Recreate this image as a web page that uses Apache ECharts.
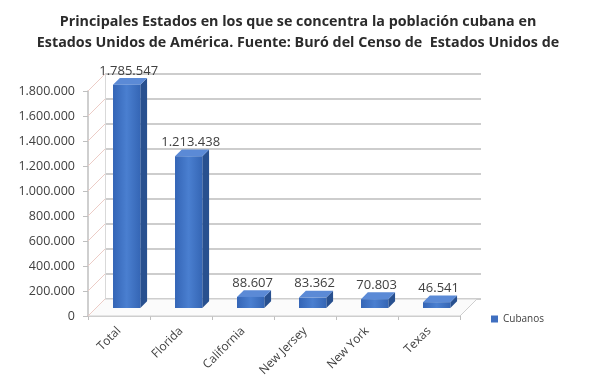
<!DOCTYPE html>
<html>
<head>
<meta charset="utf-8">
<script src="https://cdn.jsdelivr.net/npm/echarts@6/dist/echarts.min.js"></script>
<style>
  html, body { margin: 0; padding: 0; background: #fff; }
  #chart { width: 596px; height: 388px; }
</style>
</head>
<body>
<div id="chart"></div>
<script>
// datos
var categories = ['Total', 'Florida', 'California', 'New Jersey', 'New York', 'Texas'];
var cubanos = [1785547, 1213438, 88607, 83362, 70803, 46541];
var yTicks = [0, 200000, 400000, 600000, 800000, 1000000, 1200000, 1400000, 1600000, 1800000];

var DX = 17, DY = -17; // profundidad del "3D"

function fmt(v) {
  return String(v).replace(/\B(?=(\d{3})+(?!\d))/g, '.');
}

var chart = echarts.init(document.getElementById('chart'));

var option = {
  animation: false,
  title: {
    text: 'Principales Estados en los que se concentra la población cubana en\nEstados Unidos de América. Fuente: Buró del Censo de  Estados Unidos de',
    left: 'center',
    top: 6,
    textStyle: {
      fontFamily: 'Open Sans',
      fontSize: 14.3,
      fontWeight: 'bold',
      color: '#2b2b2b',
      lineHeight: 21
    }
  },
  legend: {
    data: ['Cubanos'],
    left: 486,
    top: 309,
    icon: 'rect',
    itemWidth: 7,
    itemHeight: 7,
    itemGap: 4,
    textStyle: { fontFamily: 'Open Sans', fontSize: 10, color: '#404040' }
  },
  grid: [
    { left: 88, right: 136, top: 91, bottom: 72 },
    { left: 88 + DX, right: 136 - DX - 4, top: 91 + DY, bottom: 72 - DY }
  ],
  xAxis: [
    {
      type: 'category',
      gridIndex: 0,
      data: categories,
      axisLine: { lineStyle: { color: '#bfbfbf', width: 1.5 } },
      axisTick: { show: true, length: 4, lineStyle: { color: '#bfbfbf' } },
      axisLabel: {
        rotate: 45,
        margin: 13,
        fontFamily: 'Open Sans',
        fontSize: 12,
        color: '#404040'
      }
    },
    {
      type: 'category',
      gridIndex: 1,
      data: categories,
      show: false
    }
  ],
  yAxis: [
    {
      type: 'value',
      gridIndex: 0,
      min: 0,
      max: 1800000,
      interval: 200000,
      axisLine: { show: true, lineStyle: { color: '#bfbfbf', width: 1.5 } },
      axisTick: { show: true, length: 5, lineStyle: { color: '#bfbfbf' } },
      splitLine: { show: false },
      axisLabel: {
        margin: 13,
        fontFamily: 'Open Sans',
        fontSize: 12.5,
        color: '#404040',
        formatter: fmt
      }
    },
    {
      type: 'value',
      gridIndex: 1,
      min: 0,
      max: 1800000,
      interval: 200000,
      axisLine: { show: true, lineStyle: { color: '#d9d9d9' } },
      axisTick: { show: false },
      axisLabel: { show: false },
      splitLine: { show: true, lineStyle: { color: '#bdbdbd', width: 1.5 } }
    }
  ],
  series: [
    {
      // pared lateral y piso
      type: 'custom',
      xAxisIndex: 0,
      yAxisIndex: 0,
      silent: true,
      z: 1,
      data: yTicks.map(function (t) { return [0, t]; }),
      renderItem: function (params, api) {
        var cs = params.coordSys;
        var y = api.coord([0, api.value(1)])[1];
        var x0 = cs.x;
        var children = [{
          type: 'line',
          shape: { x1: x0, y1: y, x2: x0 + DX, y2: y + DY },
          style: { stroke: '#ecccc6', lineWidth: 1 }
        }];
        if (api.value(1) === 0) {
          var x1 = cs.x + cs.width;
          children.unshift({
            type: 'polygon',
            shape: { points: [[x0, y], [x1, y], [x1 + DX, y + DY], [x0 + DX, y + DY]] },
            style: { fill: '#fbfbfb', stroke: '#cfcfcf', lineWidth: 1 }
          });
        }
        return { type: 'group', children: children };
      }
    },
    {
      name: 'Cubanos',
      type: 'custom',
      xAxisIndex: 0,
      yAxisIndex: 0,
      z: 3,
      itemStyle: { color: '#3f6fc0' },
      data: cubanos.map(function (v, i) { return [i, v]; }),
      renderItem: function (params, api) {
        var c = api.coord([api.value(0), 0]);
        var top = api.coord([api.value(0), api.value(1)]);
        var w = api.size([1, 0])[0] * 0.44;
        var ox = DX * 0.45, oy = DY * 0.47;
        var bx = DX * 0.4, by = DY * 0.4;
        var xl = c[0] + ox - w / 2, xr = xl + w;
        var yb = c[1] + oy, yt = top[1] + oy;
        return {
          type: 'group',
          children: [
            {
              type: 'polygon',
              shape: { points: [[xr, yb], [xr + bx, yb + by], [xr + bx, yt + by], [xr, yt]] },
              style: { fill: '#28508f' }
            },
            {
              type: 'polygon',
              shape: { points: [[xl, yt], [xr, yt], [xr + bx, yt + by], [xl + bx, yt + by]] },
              style: { fill: '#5b8ad6' }
            },
            {
              type: 'rect',
              shape: { x: xl, y: yt, width: w, height: yb - yt },
              style: {
                fill: new echarts.graphic.LinearGradient(0, 0, 1, 0, [
                  { offset: 0, color: '#3465b6' },
                  { offset: 0.5, color: '#4a7fd0' },
                  { offset: 1, color: '#3566b5' }
                ])
              }
            },
            {
              type: 'text',
              style: {
                text: fmt(api.value(1)),
                x: xl + w / 2 + 2,
                y: yt - 14,
                align: 'center',
                verticalAlign: 'middle',
                fontFamily: 'Open Sans',
                fontSize: 13,
                fill: '#404040'
              }
            }
          ]
        };
      }
    }
  ]
};

chart.setOption(option);
window.addEventListener('resize', function () {
  chart.resize();
});
</script>
</body>
</html>
